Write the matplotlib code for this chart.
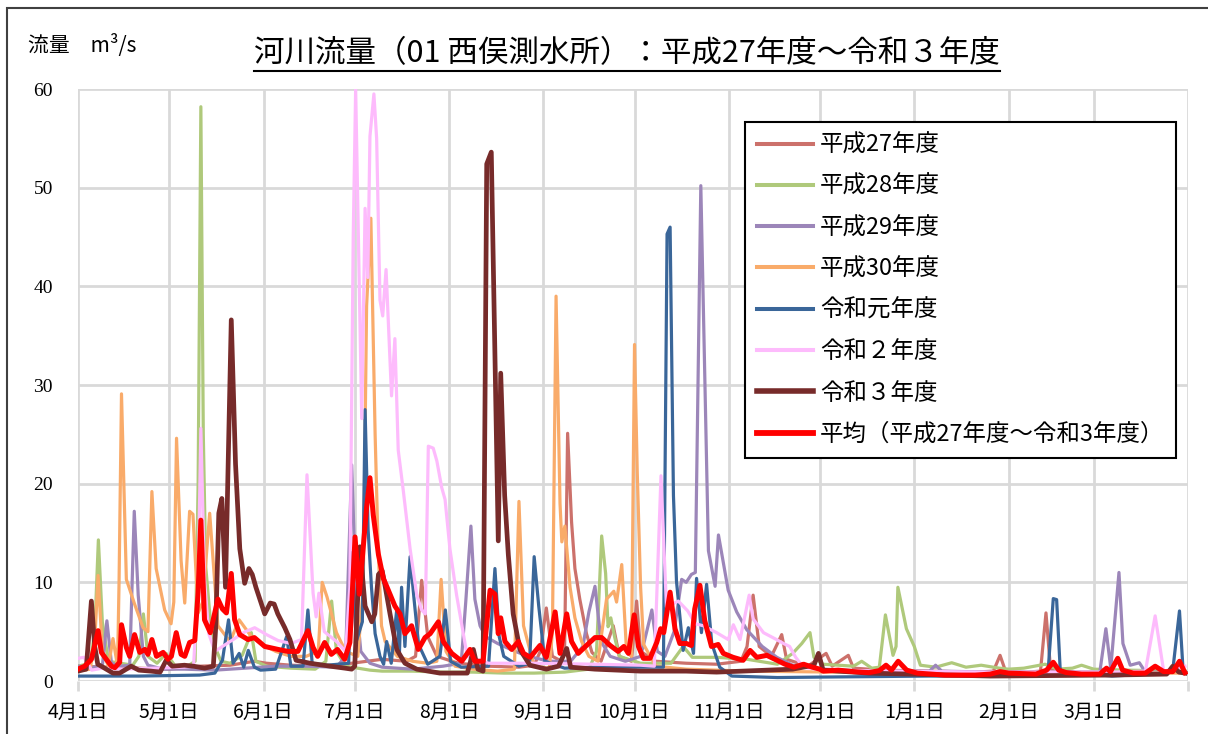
import matplotlib
matplotlib.use("Agg")
import matplotlib.pyplot as plt
from matplotlib.lines import Line2D
from matplotlib.patches import Rectangle

plt.rcParams['font.family'] = ['Noto Sans CJK JP', 'DejaVu Sans']

# ---- data: day index counted from April 1 (0) and flow in m3/s ----
month_days = [0, 30, 61, 91, 122, 153, 183, 214, 244, 275, 306, 334, 365]
month_labels = ["4月1日", "5月1日", "6月1日", "7月1日", "8月1日", "9月1日", "10月1日",
                "11月1日", "12月1日", "1月1日", "2月1日", "3月1日", ""]

h27_d = [0, 10, 20, 30, 40, 50, 58, 62, 70, 80, 90, 100, 108, 111, 113, 115, 118, 125, 135, 145, 150, 152,
         154, 156, 159, 160, 161, 162.3, 163.4, 165, 167.2, 169, 172, 176, 178, 182, 183.7, 185, 190, 200,
         210, 218, 220, 222, 224, 228, 231.4, 233, 240, 246, 248, 253.3, 255, 265, 280, 295, 301, 303.2,
         305, 312, 316.5, 318.3, 319.8, 325, 340, 355, 364]
h27_v = [1.5, 1.4, 1.3, 1.2, 1.5, 1.6, 2.0, 1.8, 1.6, 1.5, 1.8, 2.2, 2.0, 2.5, 10.2, 4.5, 2.5, 1.8, 1.5, 1.4,
         1.6, 3.0, 7.4, 2.5, 2.0, 3.0, 25.1, 16.1, 11.4, 8.3, 4.8, 2.9, 2.0, 5.6, 2.5, 2.0, 8.1, 3.0, 2.0,
         1.8, 1.7, 2.0, 3.5, 8.7, 3.5, 2.5, 4.7, 2.2, 1.5, 2.8, 1.5, 2.6, 1.3, 1.1, 1.0, 0.9, 1.0, 2.6, 1.0,
         0.9, 1.0, 6.9, 1.2, 0.9, 0.9, 0.9, 0.9]

h28_d = [0, 4, 5.5, 6.7, 8, 10, 14, 18, 20, 21.5, 23, 26, 29, 32, 36, 38.5, 39.5, 40.4, 41.2, 42, 43.5, 45,
         47, 50, 54, 57, 58.5, 62, 70, 78, 81.5, 83.4, 85, 88, 92, 96, 100, 110, 120, 130, 140, 150, 160,
         168, 170.5, 172.2, 173.5, 174.3, 175.2, 176.5, 178, 185, 195, 199, 202, 210, 220, 230, 235, 238,
         240.7, 242, 245, 255, 257.7, 261, 263.5, 265.5, 268, 269, 269.6, 272.4, 275, 277, 282, 287.3,
         292, 297, 303, 306, 311, 318, 322, 327, 330, 334, 345, 364]
h28_v = [1.5, 1.8, 5.0, 14.3, 6.0, 2.0, 1.8, 1.6, 2.5, 6.8, 2.5, 1.8, 2.8, 1.5, 1.5, 2.0, 20.0, 58.2, 25.0,
         11.6, 6.2, 3.5, 2.0, 1.8, 2.6, 4.9, 2.0, 1.5, 1.3, 1.2, 2.0, 8.1, 3.0, 1.5, 1.3, 1.1, 1.0, 1.0, 0.9,
         0.9, 0.8, 0.8, 0.9, 1.2, 3.0, 14.7, 10.9, 5.5, 6.4, 4.4, 2.5, 1.8, 1.8, 3.5, 2.4, 2.4, 2.2, 1.7,
         2.8, 3.8, 4.9, 2.4, 1.7, 1.5, 2.0, 1.3, 1.4, 6.7, 2.6, 3.5, 9.5, 5.3, 3.5, 1.6, 1.4, 1.85, 1.4,
         1.6, 1.3, 1.2, 1.3, 1.7, 1.2, 1.3, 1.6, 1.2, 1.1, 1.0]

h29_d = [0, 5, 8, 9.5, 11, 14, 17, 18.5, 19.8, 21.5, 23, 28, 35, 45, 55, 65, 75, 85, 88, 90, 91.5, 93, 96,
         100, 110, 120, 126, 127.5, 129.2, 130.5, 132.2, 134, 138, 143, 148, 155, 162, 166, 168, 170, 172,
         175, 180, 185, 187, 188.7, 190.5, 193, 196, 198.5, 200, 201.7, 203, 204.8, 207.3, 209.5, 210.6,
         213.8, 216.6, 219.9, 225, 229.8, 235, 245, 260, 280, 282, 284, 300, 320, 336, 338, 339.6, 342.3,
         343.6, 346, 349, 351, 364]
h29_v = [1.5, 1.4, 1.5, 6.1, 1.8, 1.5, 1.6, 17.2, 8.7, 2.5, 1.6, 1.2, 1.2, 1.1, 1.3, 1.5, 1.5, 1.4, 2.5,
         21.9, 8.0, 3.0, 1.8, 1.4, 1.2, 1.5, 1.8, 8.0, 15.7, 8.3, 5.6, 4.5, 3.8, 3.1, 2.5, 2.0, 2.0, 3.5,
         7.0, 9.6, 4.0, 2.5, 2.0, 2.5, 5.0, 7.2, 3.0, 2.5, 5.0, 10.3, 10.0, 10.8, 11.0, 50.2, 13.2, 9.6,
         14.8, 9.2, 7.0, 5.2, 3.5, 2.4, 1.6, 1.2, 1.0, 1.0, 1.6, 1.0, 0.9, 0.9, 0.9, 5.3, 1.3, 11.0, 3.8,
         1.6, 1.85, 0.9, 0.9]

h30_d = [0, 4, 5.5, 6.6, 8, 10, 11.5, 13, 13.5, 14.3, 15.9, 18.6, 21.4, 23, 24.3, 25.7, 28.5, 30.6, 31.5,
         32.4, 33.9, 35.1, 36.7, 37.8, 39.5, 41, 43.3, 46, 50, 53, 57, 60, 65, 70, 75, 79, 80.3, 81.9, 85,
         88, 92, 93.8, 94.9, 96.3, 97.7, 98.7, 99.8, 101, 105, 110, 115, 118, 119.4, 121, 124, 130, 138,
         143.5, 145, 146.5, 150, 155, 156, 157.2, 158.5, 159.1, 160.1, 161.8, 163.4, 165.6, 168, 171,
         172.2, 173.8, 176.2, 177.1, 178.8, 180.4, 182, 183, 183.9, 185, 186, 190, 200, 220, 250, 300, 364]
h30_v = [1.0, 1.2, 4.0, 10.7, 3.0, 1.5, 4.3, 1.5, 10.0, 29.1, 10.3, 7.8, 5.4, 5.0, 19.2, 11.4, 7.2, 5.8,
         8.0, 24.6, 12.2, 7.9, 17.2, 16.9, 6.9, 8.0, 17.0, 5.6, 4.0, 6.2, 4.5, 3.8, 3.0, 2.5, 2.5, 3.0,
         10.0, 8.5, 4.9, 3.0, 2.5, 9.5, 38.0, 46.9, 25.0, 13.4, 5.6, 4.0, 2.5, 2.0, 1.8, 2.0, 10.3, 3.0,
         1.5, 1.2, 1.0, 1.2, 18.2, 5.6, 1.5, 1.3, 5.0, 39.0, 18.0, 14.1, 15.7, 9.5, 6.4, 4.0, 2.5, 2.0, 4.8,
         8.3, 9.1, 8.0, 11.8, 2.9, 2.5, 34.1, 21.1, 9.5, 3.7, 1.5, 1.2, 1.0, 0.9, 0.8, 0.8]

r1_d = [0, 20, 40, 45, 47.5, 49.5, 51, 53, 54.5, 56, 58, 60, 65, 68.6, 70, 74, 75.6, 77, 82, 89, 90, 91.5,
        93.5, 94.4, 95.4, 96.5, 97.7, 99.3, 100.5, 101.5, 103, 104.8, 105.7, 106.4, 107.5, 109.2, 110.5,
        112, 115, 119, 120.8, 122.5, 126, 135, 137.1, 138.5, 140, 145, 148.5, 150, 151.5, 153.5, 160, 170,
        180, 192.5, 193.7, 194.7, 195.8, 196.8, 199, 200.7, 202.4, 203.4, 205, 206.7, 208.4, 211, 215, 230,
        245, 280, 317.5, 319, 320.7, 321.8, 323, 340, 358.4, 360, 362.2, 363.4, 364]
r1_v = [0.5, 0.5, 0.6, 0.8, 2.1, 6.2, 1.8, 2.8, 1.4, 3.1, 1.4, 1.1, 1.2, 4.5, 1.5, 1.5, 7.2, 1.8, 1.6, 1.8,
        13.0, 4.0, 6.0, 27.5, 15.3, 9.5, 4.8, 2.5, 1.7, 4.0, 1.8, 7.2, 2.9, 9.5, 3.5, 12.6, 8.3, 3.7, 1.7,
        2.5, 7.2, 2.0, 1.4, 1.5, 11.4, 4.5, 2.5, 1.5, 1.8, 12.6, 7.6, 2.0, 1.3, 1.4, 1.4, 1.4, 45.3, 46.0,
        18.8, 10.1, 3.1, 5.4, 2.8, 10.4, 4.9, 9.8, 3.8, 1.4, 0.5, 0.35, 0.4, 0.5, 0.5, 1.0, 8.35, 8.25, 1.0,
        0.5, 0.8, 1.1, 7.1, 1.0, 0.9]

r2_d = [0, 2, 4.5, 8, 15, 25, 35, 38, 39.5, 40.4, 41.6, 43, 45, 50, 55, 58.1, 62, 65.8, 70, 73.5, 75.3,
        77.3, 78.3, 79.2, 81, 85, 88, 89.4, 90.5, 91.3, 93.3, 94.4, 95.3, 96, 97.3, 98.2, 99.3, 100.2, 101.3,
        103.1, 104.2, 105.3, 107, 109.2, 111.4, 113, 114.2, 115.2, 116.8, 118, 119.6, 120.7, 122.3, 124.5,
        126.7, 128, 135, 150, 170, 185, 189.5, 191.7, 193.5, 197.4, 200.5, 203, 205.6, 210, 213.8, 215.5,
        217.7, 220.7, 222, 225.4, 229.7, 232, 234, 236, 238.5, 245, 270, 300, 340, 351, 354.2, 357, 364]
r2_v = [2.3, 2.4, 1.1, 1.3, 1.2, 1.3, 1.4, 1.5, 10.0, 25.6, 10.3, 4.8, 3.0, 4.0, 5.0, 5.4, 4.7, 4.1, 3.8,
        4.2, 20.9, 8.9, 6.5, 8.9, 5.0, 4.0, 3.0, 9.5, 45.0, 60.0, 26.6, 47.9, 40.9, 55.2, 59.5, 55.0, 38.6,
        37.0, 41.7, 28.9, 34.7, 23.4, 19.2, 13.4, 8.7, 7.2, 6.8, 23.8, 23.6, 22.3, 19.6, 18.4, 13.4, 8.7,
        4.8, 2.5, 1.8, 1.8, 1.7, 1.6, 1.5, 20.8, 7.5, 8.1, 7.1, 5.8, 5.6, 4.9, 4.2, 5.7, 4.2, 8.7, 6.3, 4.9,
        4.2, 3.8, 3.5, 2.4, 1.4, 1.1, 1.0, 0.9, 0.9, 1.0, 6.6, 1.0, 1.5]

r3_d = [0, 2.7, 4.4, 5.5, 6.5, 8.2, 11.5, 13.7, 17.5, 20, 24, 27, 29, 31, 35, 38, 41.6, 44.5, 45.3, 46.3,
        47.3, 48.5, 50.4, 51.8, 53.2, 54.8, 56.2, 57.3, 58.5, 61.4, 63.2, 64.5, 65.7, 68, 69.7, 71.7, 76.3,
        82.9, 87.8, 90, 91, 92.7, 94.4, 96.6, 97.6, 98.8, 100, 101, 102.6, 104.8, 107.5, 111.4, 119, 128,
        129, 130, 131.5, 133.2, 134.4, 135.9, 138.2, 139, 140.3, 141.5, 143.1, 145.3, 148.6, 154, 158,
        160.7, 162, 170, 185, 200, 210, 235, 242, 243.5, 245, 260, 300, 340, 358, 360, 362, 364]
r3_v = [1.0, 1.2, 8.1, 3.5, 1.7, 1.4, 0.8, 0.8, 1.5, 1.1, 1.0, 0.9, 2.1, 1.5, 1.6, 1.5, 1.3, 1.5, 5.5,
        17.0, 18.5, 9.5, 36.6, 22.0, 13.4, 9.9, 11.4, 10.8, 9.5, 6.8, 7.9, 7.8, 6.8, 5.4, 4.2, 2.1, 1.8,
        1.5, 1.3, 1.2, 1.5, 13.6, 7.6, 6.0, 6.8, 10.8, 11.2, 9.6, 6.8, 3.2, 1.8, 1.2, 0.8, 0.8, 1.9, 3.2,
        1.2, 1.0, 52.4, 53.6, 14.2, 31.2, 18.8, 12.8, 6.8, 3.2, 1.6, 1.2, 1.5, 3.3, 1.4, 1.2, 1.0, 1.0,
        0.9, 1.2, 1.6, 2.8, 1.1, 0.8, 0.5, 0.6, 0.7, 1.5, 0.9, 0.8]

avg_d = [0, 2.2, 4.4, 6.6, 7.7, 9.3, 11, 12.1, 13.7, 14.3, 15.9, 17, 18.6, 20.3, 22, 23, 24.3, 25.8, 28,
         29.6, 30.7, 32.3, 33.9, 35.1, 36.7, 38.4, 39.5, 40.4, 41.6, 43.5, 46, 47.5, 48.8, 50.4, 51.5, 53.2,
         55.9, 58, 61.4, 65.8, 69, 72.3, 75.6, 77.3, 78.8, 81.1, 83.3, 85.3, 87.7, 89.4, 91.1, 92.5, 93.6,
         94.9, 96, 97.1, 98.8, 100.4, 101.5, 103.1, 104.2, 105.9, 107.5, 109.7, 111.9, 114.1, 115.8, 118.5,
         120.1, 122.9, 126.2, 128.9, 130.5, 133.2, 135.5, 137.1, 138.2, 139, 140.4, 142.6, 144.8, 146.5,
         148.7, 151.9, 154, 156.9, 158.5, 160.7, 162.3, 164.5, 167.2, 170, 172.2, 175, 177.6, 179.5, 181,
         182.9, 184.3, 185.9, 188.1, 190.3, 191.6, 192.6, 194.7, 196.3, 197.9, 200.1, 201.7, 202.8, 204.5,
         206.1, 208.3, 210.5, 212.2, 215.4, 218.7, 221, 223.2, 226.5, 229.8, 232.5, 235.4, 238.6, 241.5,
         243.9, 245, 250, 255, 260, 263.5, 265.7, 267.5, 269.7, 272.5, 276, 285, 295, 300, 303.2, 306, 315,
         318.5, 320.7, 322.5, 325, 330, 336, 338.2, 339.5, 341.9, 343.5, 347, 351, 354.2, 357, 360, 362.2,
         364]
avg_v = [1.2, 1.5, 2.2, 5.1, 2.9, 2.2, 1.5, 1.35, 1.9, 5.7, 3.4, 2.5, 4.7, 2.9, 3.2, 2.7, 4.2, 2.5, 2.9,
         2.2, 2.5, 4.9, 2.7, 2.5, 3.9, 4.1, 9.0, 16.3, 6.2, 4.9, 8.3, 7.3, 6.9, 10.9, 6.2, 4.7, 4.2, 4.4, 3.5,
         3.2, 3.0, 3.0, 5.1, 3.4, 2.5, 3.9, 2.7, 3.2, 2.2, 3.9, 14.6, 8.8, 12.8, 17.6, 20.6, 16.8, 12.8, 10.4,
         9.6, 8.4, 7.6, 6.8, 4.8, 5.6, 3.2, 4.4, 4.8, 6.0, 4.0, 2.8, 2.0, 3.2, 2.0, 2.0, 9.2, 8.8, 4.8, 6.4,
         4.0, 3.2, 4.0, 2.8, 2.4, 3.6, 2.4, 7.0, 2.8, 6.8, 4.0, 2.8, 3.6, 4.4, 4.4, 3.6, 3.0, 3.5, 2.8, 6.7,
         3.5, 2.3, 2.3, 3.9, 5.3, 4.9, 9.0, 5.3, 3.8, 3.8, 3.6, 7.3, 9.7, 6.1, 3.5, 3.7, 2.8, 2.4, 2.1, 3.1,
         2.4, 2.6, 2.1, 1.7, 1.4, 1.7, 1.4, 1.2, 1.0, 1.1, 0.95, 0.85, 1.05, 1.6, 1.1, 2.0, 1.1, 0.8, 0.6,
         0.6, 0.7, 0.95, 0.8, 0.7, 1.1, 1.9, 1.1, 0.85, 0.7, 0.7, 1.3, 0.95, 2.3, 1.1, 0.8, 0.8, 1.5, 0.95,
         0.95, 2.0, 0.85]

series = [
    ("平成27年度", h27_d, h27_v, "#CC716B", 2.3),
    ("平成28年度", h28_d, h28_v, "#AFC97B", 2.3),
    ("平成29年度", h29_d, h29_v, "#9C86B9", 2.3),
    ("平成30年度", h30_d, h30_v, "#F9AB6A", 2.3),
    ("令和元年度", r1_d, r1_v, "#3A6699", 2.3),
    ("令和２年度", r2_d, r2_v, "#FDBBFC", 2.3),
    ("令和３年度", r3_d, r3_v, "#772B2A", 3.4),
    ("平均（平成27年度～令和3年度）", avg_d, avg_v, "#FF0000", 3.6),
]

W, H = 1208, 734
fig = plt.figure(figsize=(W / 100, H / 100), dpi=100)
ax = fig.add_axes([78 / W, (H - 681) / H, 1110 / W, 592 / H])

for name, d, v, c, lw in series:
    ax.plot(d, v, color=c, lw=lw, label=name, solid_joinstyle='round', clip_on=True)

ax.set_xlim(0, 365)
ax.set_ylim(0, 60)
ax.set_yticks(range(0, 61, 10))
ax.set_xticks(month_days)
ax.set_xticklabels(month_labels, fontsize=14)
ax.tick_params(axis='x', length=7, width=2, color='#D9D9D9', pad=8)
ax.tick_params(axis='y', length=0, pad=18)
for lab in ax.get_yticklabels():
    lab.set_fontfamily(['Liberation Serif', 'DejaVu Serif'])
    lab.set_fontsize(14)
ax.grid(True, color='#D9D9D9', lw=2)
ax.set_axisbelow(True)
for s in ax.spines.values():
    s.set_visible(False)

leg = ax.legend(loc='upper left', bbox_to_anchor=((745 - 78) / 1110, (681 - 122) / 592),
                fontsize=16.9, frameon=True, fancybox=False, edgecolor='black', framealpha=1,
                handlelength=2.4, handletextpad=0.3, labelspacing=0.78, borderpad=0.5,
                borderaxespad=0)
leg.get_frame().set_linewidth(1.5)
for ln in leg.get_lines():
    ln.set_linewidth(ln.get_linewidth() + 0.6)

title = fig.text(627 / W, (H - 54) / H, "河川流量（01 西俣測水所）：平成27年度～令和３年度",
                 ha='center', va='center', fontsize=22)
fig.text(28 / W, (H - 45) / H, "流量　m³/s", ha='left', va='center', fontsize=15)

fig.patches.append(Rectangle((7 / W, -0.05), 1.2, (H - 8) / H + 0.05, transform=fig.transFigure,
                             fill=False, edgecolor='#404040', lw=1.5))

fig.canvas.draw()
bb = title.get_window_extent()
uy = (bb.y0 - 1) / H
fig.add_artist(Line2D([bb.x0 / W, bb.x1 / W], [uy, uy], transform=fig.transFigure, color='black', lw=1.5))

fig.savefig("out.png", dpi=100)
